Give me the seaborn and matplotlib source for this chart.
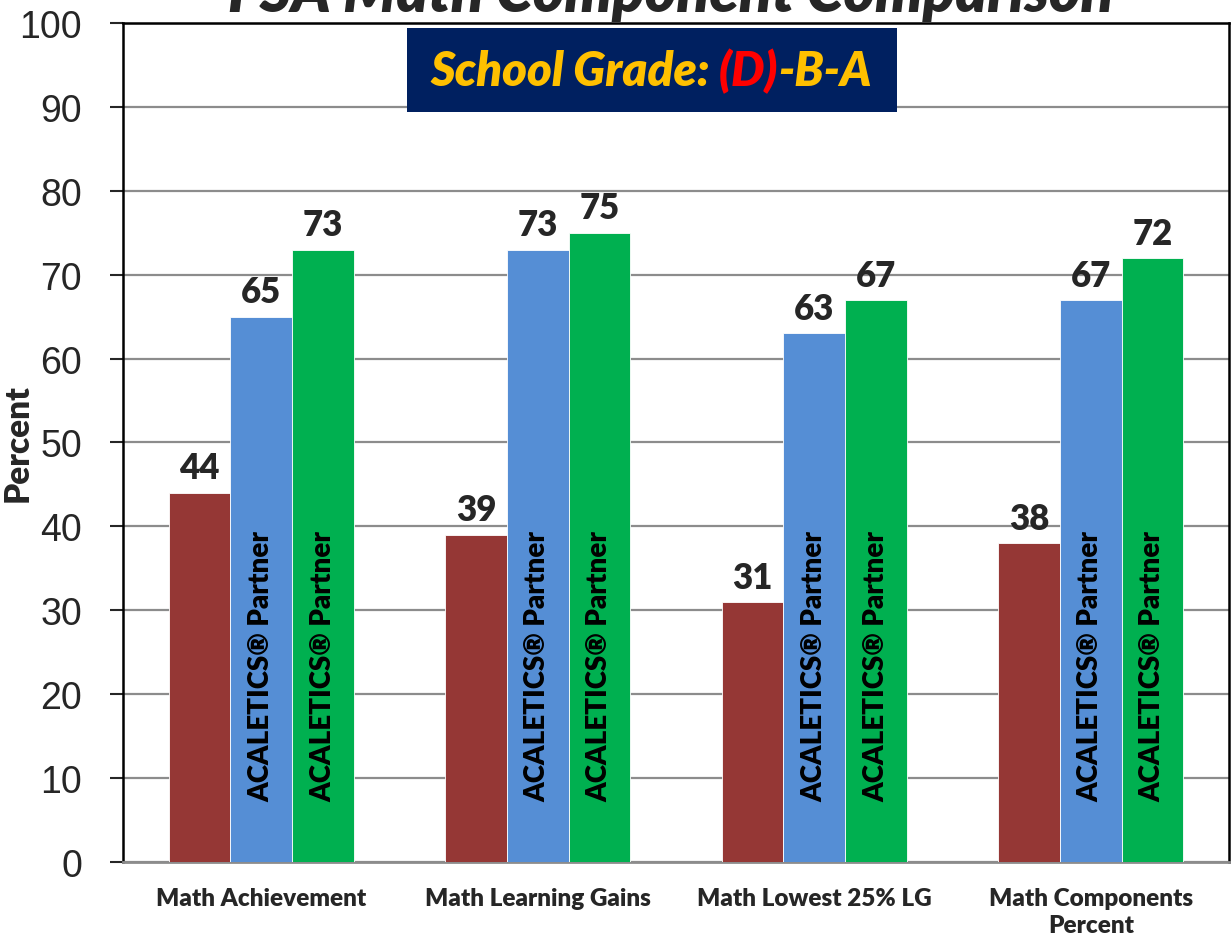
import pandas as pd
import matplotlib.pyplot as plt
import seaborn as sns
from matplotlib.patches import Rectangle

# Chart data
categories = ["Math Achievement", "Math Learning Gains", "Math Lowest 25% LG", "Math Components\nPercent"]
series = ["School", "Partner 1", "Partner 2"]
school = [44, 39, 31, 38]
partner_1 = [65, 73, 63, 67]
partner_2 = [73, 75, 67, 72]
colors = ["#953735", "#558ED5", "#00B050"]

data = pd.DataFrame({
    "category": categories * 3,
    "series": [series[0]] * 4 + [series[1]] * 4 + [series[2]] * 4,
    "value": school + partner_1 + partner_2,
})

sns.set_style("white")
plt.rcParams["font.family"] = ["Lato", "DejaVu Sans"]

fig = plt.figure(figsize=(12.31, 9.45), dpi=100)
ax = fig.add_axes([0.0999, 0.0868, 0.8985, 0.8878])

sns.barplot(data=data, x="category", y="value", hue="series", palette=colors,
            width=0.67, saturation=1, edgecolor="white", linewidth=0.6,
            legend=False, ax=ax, zorder=3)

ax.set_ylim(0, 100)
ax.set_xlim(-0.5, 3.5)
ax.set_yticks(range(0, 101, 10))
ax.yaxis.grid(True, color="#8c8c8c", linewidth=1.6, zorder=0)
ax.tick_params(axis="y", labelsize=27, length=9.5, width=1.5, pad=20,
               direction="out", left=True)
for lab in ax.get_yticklabels():
    lab.set_fontfamily("Liberation Sans")
ax.tick_params(axis="x", length=0, pad=18)
ax.set_xticks(range(len(categories)))
ax.set_xticklabels(categories, fontsize=17.5, fontweight="heavy", linespacing=1.3, va="top")
ax.set_xlabel("")
ax.set_ylabel("Percent", fontsize=24, fontweight="heavy")
ax.yaxis.set_label_coords(-0.081, 0.5)

for side in ["left", "top", "right"]:
    ax.spines[side].set_color("black")
    ax.spines[side].set_linewidth(1.8)
ax.spines["bottom"].set_color("#8c8c8c")
ax.spines["bottom"].set_linewidth(2)

# value labels above bars
for cont in ax.containers:
    ax.bar_label(cont, fontsize=25, fontweight="heavy", padding=6)

# rotated partner labels inside blue and green bars
for cont in ax.containers[1:]:
    for bar in cont:
        cx = bar.get_x() + bar.get_width() / 2
        ax.text(cx, 7.3, "ACALETICS\u00ae Partner", rotation=90, ha="center", va="bottom",
                fontsize=20, fontweight="heavy", color="black", zorder=5)

# grade box
ax.add_patch(Rectangle((0.257, 0.894), 0.443, 0.100, transform=ax.transAxes,
                       facecolor="#002060", edgecolor="none", zorder=6))
t1 = ax.text(0.2776, 0.943, "School Grade: ", transform=ax.transAxes, ha="left", va="center",
             fontsize=34, fontweight="heavy", fontstyle="italic", color="#FFC000", zorder=7)
t2 = ax.annotate("(D)", xy=(1, 0), xycoords=t1, ha="left", va="bottom",
                 fontsize=34, fontweight="heavy", fontstyle="italic", color="#FF0000", zorder=7)
ax.annotate("-B-A", xy=(1, 0), xycoords=t2, ha="left", va="bottom",
            fontsize=34, fontweight="heavy", fontstyle="italic", color="#FFC000", zorder=7)

# title, clipped at top like the original
fig.text(0.545, 0.987, "FSA Math Component Comparison", ha="center", va="baseline",
         fontsize=43, fontweight="heavy", fontstyle="italic")

fig.savefig("out.png", dpi=100)
